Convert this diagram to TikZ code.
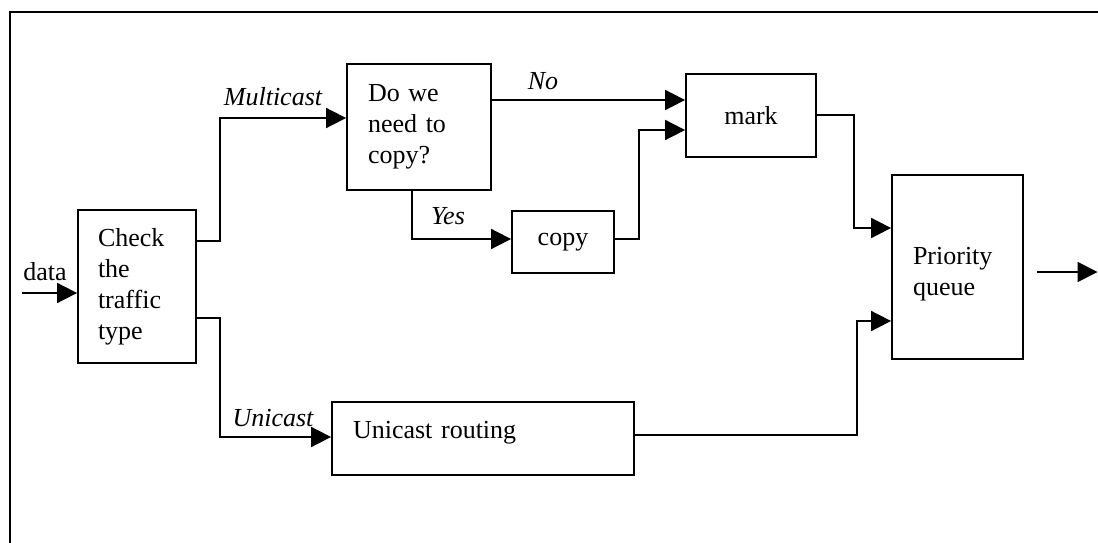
\documentclass[tikz,border=0pt]{standalone}
\usepackage{fontspec}
\setmainfont{Liberation Serif}
\usetikzlibrary{arrows.meta}
\begin{document}
\begin{tikzpicture}[x=1pt,y=-1pt,
  box/.style={draw, line width=1.8pt, inner ysep=0pt, font=\fontsize{26}{31}\selectfont},
  lbox/.style={box, align=left},
  cbox/.style={box, align=center},
  lab/.style={font=\fontsize{26}{31}\selectfont\itshape, inner sep=0pt, anchor=base},
  plain/.style={font=\fontsize{26}{31}\selectfont, inner sep=0pt, anchor=base},
  conn/.style={line width=1.8pt},
  arr/.style={conn, -{Triangle[length=20pt,width=20pt]}},
  frame/.style={line width=1.5pt}]
\useasboundingbox (0,0) rectangle (1098,543);
% frame
\draw[frame] (10,543) -- (10,12) -- (1098,12);
% boxes
\node[lbox, inner xsep=20pt, text width=78pt, minimum height=153pt] (check) at (137,286.5) {Check\\the\\traffic\\type};
\node[lbox, inner xsep=21pt, text width=102pt, minimum height=126pt] (do) at (419,127) {Do we\\need to\\copy?};
\node[cbox, minimum width=130pt, minimum height=83pt] (mark) at (751,115.5) {mark};
\node[cbox, minimum width=102pt, minimum height=62pt] (copy) at (563,242) {copy};
\node[lbox, inner xsep=21pt, text width=260pt, minimum height=73pt, text depth=18pt] (uni) at (483,438.5) {Unicast routing};
\node[lbox, inner xsep=21pt, text width=89pt, minimum height=184pt, text depth=21.7pt] (pq) at (957.5,267) {Priority\\queue};
% labels
\node[plain] (datal) at (45,280) {data};
\node[lab] (mcl) at (273,106) {Multicast};
\node[lab] (nol) at (543,89) {No};
\node[lab] (yesl) at (448,224) {Yes};
\node[lab] (ucl) at (273,426) {Unicast};
% connectors
\coordinate (din) at (22,293);
\coordinate (out) at (1097.5,272);
\draw[arr] (din) -- (check.west |- din);
\draw[arr] ([yshift=45.5pt]check.east) -- ++(23,0) |- ([yshift=9pt]do.west);
\draw[arr] ([yshift=-31.5pt]check.east) -- ++(23,0) |- ([yshift=1.5pt]uni.west);
\draw[arr] ([yshift=27pt]do.east) -- ([yshift=15.5pt]mark.west);
\draw[arr] ([xshift=-7pt]do.south) |- ([yshift=3pt]copy.west);
\draw[arr] ([yshift=3pt]copy.east) -- ++(24,0) |- ([yshift=-14.5pt]mark.west);
\draw[arr] ([yshift=0.5pt]mark.east) -- ++(37,0) |- ([yshift=39pt]pq.west);
\draw[arr] ([yshift=3.5pt]uni.east) -- ++(222,0) |- ([yshift=-54pt]pq.west);
\draw[arr] ([xshift=13pt,yshift=-5pt]pq.east) -- (out);
\end{tikzpicture}
\end{document}
